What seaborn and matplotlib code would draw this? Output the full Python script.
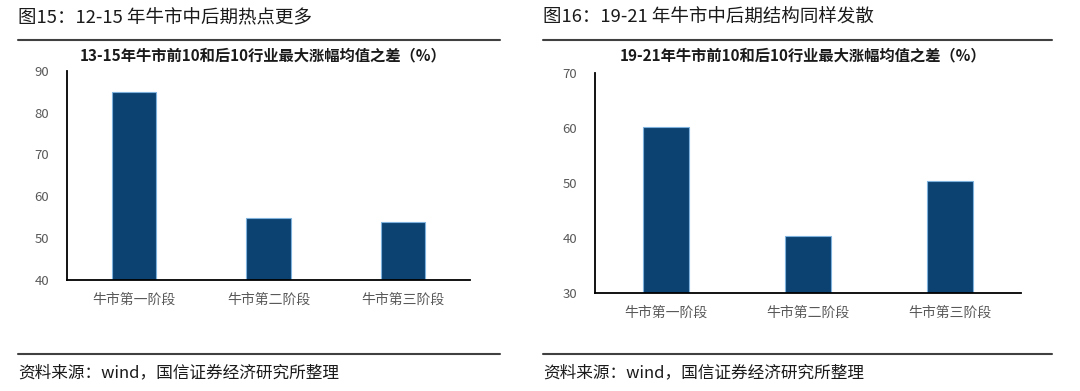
import matplotlib
matplotlib.use("Agg")
import matplotlib.pyplot as plt
import seaborn as sns
import pandas as pd

# data
stages = ["牛市第一阶段", "牛市第二阶段", "牛市第三阶段"]
diff_1315 = [84.8, 54.9, 53.9]
diff_1921 = [60.1, 40.4, 50.4]

sns.set_theme(style="white")
plt.rcParams['font.family'] = ['Noto Sans CJK SC', 'DejaVu Sans']

bar_color = "#0b4272"
edge_color = "#7fb2dd"
tick_gray = "#595959"

fig = plt.figure(figsize=(10.8, 3.91), dpi=100)


def px(x, y):
    # pixel coords (from top-left) -> figure fraction
    return x / 1080, 1 - y / 391


def draw_panel(rect, values, ylim, yticks, fig_title, sub_title, tx, sub_x, line_x):
    ax = fig.add_axes(rect)
    df = pd.DataFrame({"stage": stages, "value": values})
    sns.barplot(data=df, x="stage", y="value", ax=ax, color=bar_color,
                width=0.33, edgecolor=edge_color, linewidth=0.8, saturation=1)
    ax.set_xlim(-0.5, 2.5)
    ax.set_ylim(*ylim)
    ax.set_yticks(yticks)
    ax.set_xticks([-0.5, 0.5, 1.5, 2.5])
    ax.set_xticklabels([])
    ax.set_xticks([0, 1, 2], minor=True)
    ax.set_xticklabels(stages, minor=True)
    ax.tick_params(axis="x", which="major", length=4, width=1.2, color="black", direction="out")
    ax.tick_params(axis="x", which="minor", length=0, pad=9, labelsize=10, labelcolor=tick_gray)
    ax.tick_params(axis="y", length=3, width=1.2, color="black", direction="out",
                   labelsize=9.5, labelcolor=tick_gray, pad=10)
    ax.set_xlabel("")
    ax.set_ylabel("")
    for s in ["top", "right"]:
        ax.spines[s].set_visible(False)
    for s in ["left", "bottom"]:
        ax.spines[s].set_color("black")
        ax.spines[s].set_linewidth(1.3)

    x, y = px(tx, 18)
    fig.text(x, y, fig_title, fontsize=13.3, color="#1a1a1a", va="center", ha="left")
    x, y = px(sub_x, 55)
    fig.text(x, y, sub_title, fontsize=11, fontweight="bold", color="#1a1a1a",
             va="center", ha="center")
    x, y = px(tx, 373)
    fig.text(x, y, "资料来源：wind，国信证券经济研究所整理", fontsize=12,
             color="#1a1a1a", va="center", ha="left")
    x0, y0 = px(line_x[0], 40)
    x1, _ = px(line_x[1], 40)
    fig.add_artist(plt.Line2D([x0, x1], [y0, y0], color="#404040", lw=1.5))
    x0, y0 = px(line_x[0], 354)
    fig.add_artist(plt.Line2D([x0, x1], [y0, y0], color="#404040", lw=1.5))
    return ax


draw_panel([67 / 1080, (391 - 280) / 391, 403 / 1080, 209.3 / 391],
           diff_1315, (40, 90), [40, 50, 60, 70, 80, 90],
           "图15：12-15 年牛市中后期热点更多",
           "13-15年牛市前10和后10行业最大涨幅均值之差（%）",
           18, 263, (18, 500))

draw_panel([595 / 1080, (391 - 293.3) / 391, 426 / 1080, 220.6 / 391],
           diff_1921, (30, 70), [30, 40, 50, 60, 70],
           "图16：19-21 年牛市中后期结构同样发散",
           "19-21年牛市前10和后10行业最大涨幅均值之差（%）",
           543, 803, (543, 1052))

fig.savefig("out.png", dpi=100)
